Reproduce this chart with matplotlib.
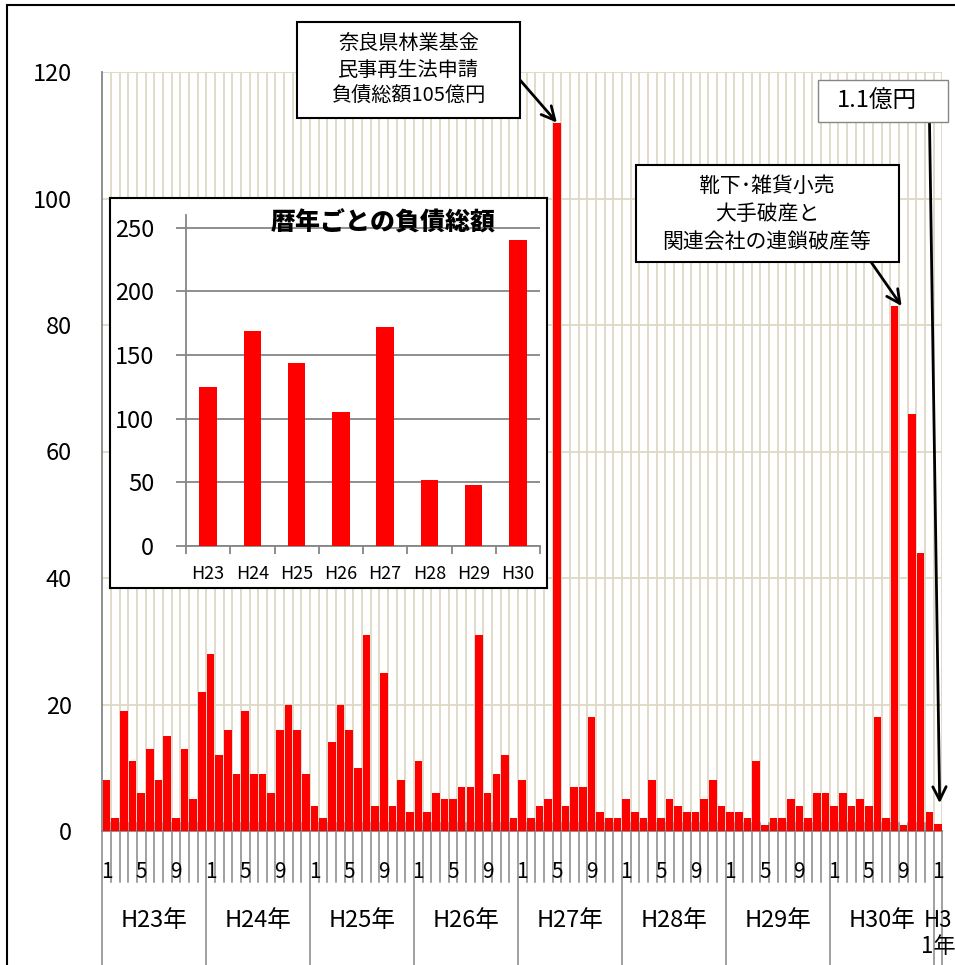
import numpy as np
import matplotlib.pyplot as plt
from matplotlib.patches import Rectangle

plt.rcParams['font.family'] = ['Noto Sans CJK JP', 'DejaVu Sans']

# 月ごとの負債総額（億円）
h23 = [8, 2, 19, 11, 6, 13, 8, 15, 2, 13, 5, 22]
h24 = [28, 12, 16, 9, 19, 9, 9, 6, 16, 20, 16, 9]
h25 = [4, 2, 14, 20, 16, 10, 31, 4, 25, 4, 8, 3]
h26 = [11, 3, 6, 5, 5, 7, 7, 31, 6, 9, 12, 2]
h27 = [8, 2, 4, 5, 112, 4, 7, 7, 18, 3, 2, 2]
h28 = [5, 3, 2, 8, 2, 5, 4, 3, 3, 5, 8, 4]
h29 = [3, 3, 2, 11, 1, 2, 2, 5, 4, 2, 6, 6]
h30 = [4, 6, 4, 5, 4, 18, 2, 83, 1, 66, 44, 3]
h31 = [1.1]
monthly = h23 + h24 + h25 + h26 + h27 + h28 + h29 + h30 + h31
year_labels = ['H23年', 'H24年', 'H25年', 'H26年', 'H27年', 'H28年', 'H29年', 'H30年']
month_labels = ['1', '5', '9']

# 暦年ごとの合計
inset_years = ['H23', 'H24', 'H25', 'H26', 'H27', 'H28', 'H29', 'H30']
inset_totals = [125, 169, 144, 105, 172, 52, 48, 240]

RED = '#FF0000'
BEIGE = '#DDD9C4'
GRAY = '#868686'

W, H = 955, 965
fig = plt.figure(figsize=(W / 100, H / 100), dpi=100)


def fx(px):
    return px / W


def fy(py):
    return 1 - py / H


# 外枠
fig.patches.append(Rectangle((fx(7), -0.1), 1.2, fy(5) + 0.1, transform=fig.transFigure,
                             fill=False, ec='black', lw=1.5, zorder=0))

ax = fig.add_axes([fx(102.3), fy(831), fx(942.3) - fx(102.3), fy(72) - fy(831)])
n = len(monthly)
x = np.arange(n)
ax.bar(x, monthly, width=0.88, color=RED, zorder=3)
ax.set_xlim(-0.5, n - 0.5)
ax.set_ylim(0, 120)
ax.set_yticks(range(0, 121, 20))
ax.vlines(np.arange(0.5, n), 0, 120, color=BEIGE, lw=1.3, zorder=1)
ax.yaxis.grid(True, color=BEIGE, lw=1.3, zorder=1)
ax.set_axisbelow(True)
for s in ['top', 'right']:
    ax.spines[s].set_visible(False)
for s in ['left', 'bottom']:
    ax.spines[s].set_color(GRAY)
    ax.spines[s].set_linewidth(1.3)
ax.set_xticks([])
ax.tick_params(axis='y', length=0, pad=22, labelsize=17)

# 月・年の区切りと目盛ラベル
trans = ax.get_xaxis_transform()
for i in range(n + 1):
    b = i - 0.5
    if i % 12 == 0 or i == n:
        ax.plot([b, b], [0, -0.2], transform=trans, clip_on=False, color=GRAY, lw=1.1)
    else:
        ax.plot([b, b], [0.011, -0.0672], transform=trans, clip_on=False, color=GRAY, lw=1.1)
for yi in range(len(year_labels)):
    for k, m in zip([0, 4, 8], month_labels):
        ax.text(yi * 12 + k, -0.054, m, transform=trans, ha='center', va='center', fontsize=15)
    ax.text(yi * 12 + 5.5, -0.1173, year_labels[yi], transform=trans, ha='center', va='center', fontsize=17)
ax.text(n - 1, -0.054, '1', transform=trans, ha='center', va='center', fontsize=15)
# H31年は枠に収まらず折り返し
ax.text(n - 2.6, -0.1173, 'H3', transform=trans, ha='left', va='center', fontsize=16)
ax.text(n - 3.0, -0.152, '1年', transform=trans, ha='left', va='center', fontsize=16)

# 吹き出し
boxes = [
    ((297, 22, 520, 118), (408.5, 70), '奈良県林業基金\n民事再生法申請\n負債総額105億円', 14.5, 'black', 1.5),
    ((636, 165, 899, 262), (767, 214), '靴下･雑貨小売\n大手破産と\n関連会社の連鎖破産等', 15, 'black', 1.5),
    ((818, 80, 948, 122), (877, 101), '1.1億円', 17, GRAY, 1.0),
]
for (x0, y0, x1, y1), (tx, ty), txt, fs, ec, lw in boxes:
    fig.patches.append(Rectangle((fx(x0), fy(y1)), fx(x1) - fx(x0), fy(y0) - fy(y1),
                                 transform=fig.transFigure, fc='white', ec=ec, lw=lw, zorder=5))
    fig.text(fx(tx), fy(ty), txt, ha='center', va='center', fontsize=fs, linespacing=1.35, zorder=6)

arrow = dict(arrowstyle='->', color='black', lw=2, mutation_scale=24, shrinkA=0, shrinkB=0)
ax.annotate('', xy=(52, monthly[52]), xytext=(fx(520), fy(80)), textcoords='figure fraction',
            arrowprops=arrow, annotation_clip=False)
ax.annotate('', xy=(91.8, monthly[91]), xytext=(fx(871), fy(262)), textcoords='figure fraction',
            arrowprops=arrow, annotation_clip=False)
ax.annotate('', xy=(96.2, monthly[96] + 3.3), xytext=(fx(929.5), fy(122)), textcoords='figure fraction',
            arrowprops=arrow, annotation_clip=False)

# 暦年ごとの負債総額（挿入グラフ）
frame = fig.add_axes([fx(110), fy(588), fx(547) - fx(110), fy(198) - fy(588)])
frame.set_xticks([])
frame.set_yticks([])
frame.set_facecolor('white')
for s in frame.spines.values():
    s.set_color('black')
    s.set_linewidth(1.5)

axi = fig.add_axes([fx(186), fy(546), fx(540) - fx(186), fy(215) - fy(546)])
axi.patch.set_alpha(0)
xi = np.arange(len(inset_years))
axi.bar(xi, inset_totals, width=0.39, color=RED, zorder=3)
axi.set_xlim(-0.5, len(inset_years) - 0.5)
axi.set_ylim(0, 260)
axi.set_yticks(range(0, 251, 50))
axi.yaxis.grid(True, color=GRAY, lw=1.3)
axi.set_axisbelow(True)
for s in ['top', 'right']:
    axi.spines[s].set_visible(False)
for s in ['left', 'bottom']:
    axi.spines[s].set_color(GRAY)
    axi.spines[s].set_linewidth(1.3)
axi.set_xticks(xi)
axi.set_xticklabels(inset_years)
axi.set_xticks(np.arange(-0.5, len(inset_years)), minor=True)
axi.tick_params(axis='x', which='major', length=0, pad=14, labelsize=13)
axi.tick_params(axis='x', which='minor', length=6, color=GRAY, width=1.3)
axi.tick_params(axis='y', length=7, color=GRAY, width=1.3, pad=16, labelsize=17)
axi.text(0.556, 0.976, '暦年ごとの負債総額', transform=axi.transAxes, ha='center', va='center',
         fontsize=18, fontweight='heavy')

fig.savefig('out.png', dpi=100)
